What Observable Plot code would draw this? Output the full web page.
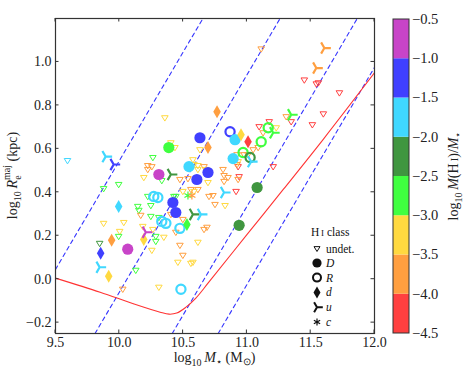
<!DOCTYPE html>
<html><head><meta charset="utf-8">
<script src="https://cdn.jsdelivr.net/npm/d3@7"></script>
<script src="https://cdn.jsdelivr.net/npm/@observablehq/plot@0.6"></script>
<style>body{margin:0;background:#fff} svg{font-family:"Liberation Serif",serif}</style>
</head><body><div id="chart"></div>
<script>
// ---- ticks / bins ----
const xTicks = [9.5, 10.0, 10.5, 11.0, 11.5, 12.0];
const yTicks = [-0.2, 0.0, 0.2, 0.4, 0.6, 0.8, 1.0];
const cbarTicks = [-0.5, -1.0, -1.5, -2.0, -2.5, -3.0, -3.5, -4.0, -4.5];
const gasBins = [-4.0, -3.5, -3.0, -2.5, -2.0, -1.5, -1.0];
const gasColors = ["#ff4040", "#ff9f40", "#ffd940", "#40ff40", "#409640", "#40d8ff", "#4040ff", "#c844c8"];
const legendLabels = ["undet.", "D", "R", "d", "u", "c"];

// ---- data: [log M*, log Re, log M(HI)/M*] ----
const undet = [
 [9.594,0.546,-1.75],[10.357,0.743,-3.25],[11.112,1.060,-3.75],[10.404,0.628,-3.25],[10.436,0.606,-3.25],
 [10.263,0.560,-2.75],[10.223,0.523,-3.75],[10.223,0.505,-3.75],[10.255,0.518,-3.75],[10.192,0.468,-3.25],
 [10.333,0.454,-2.75],[9.995,0.436,-2.75],[9.877,0.417,-2.75],[10.475,0.459,-3.75],[10.538,0.463,-3.75],
 [10.577,0.550,-3.25],[10.632,0.596,-3.25],[10.616,0.523,-3.25],[10.616,0.505,-3.25],[10.223,0.381,-2.75],
 [10.247,0.339,-2.75],[10.498,0.404,-3.25],[10.616,0.413,-3.75],[10.443,0.381,-2.75],[10.585,0.528,-3.25],
 [10.664,0.518,-3.75],[10.679,0.505,-3.25],[10.695,0.445,-3.25],[10.561,0.413,-3.75],[10.703,0.381,-3.75],
 [10.734,0.385,-3.75],[10.813,0.505,-3.75],[10.821,0.477,-3.75],[10.821,0.450,-3.75],[10.852,0.468,-3.75],
 [10.931,0.518,-4.25],[10.939,0.472,-4.25],[10.931,0.459,-3.75],[10.915,0.404,-4.25],[10.931,0.541,-3.25],
 [10.978,0.573,-3.75],[11.009,0.573,-3.75],[11.049,0.596,-3.75],[11.088,0.606,-3.75],[11.127,0.674,-3.75],
 [11.096,0.702,-4.25],[11.230,0.697,-3.25],[11.206,0.518,-4.25],[11.175,0.725,-4.25],[11.308,0.748,-3.75],
 [11.347,0.725,-4.25],[11.450,0.917,-4.25],[11.544,0.899,-4.25],[11.560,0.904,-4.25],[11.725,0.858,-4.25],
 [11.599,0.761,-4.25],[11.513,0.711,-4.25],[10.585,0.404,-3.25],[10.750,0.344,-3.75],[10.829,0.339,-3.25],
 [10.664,0.229,-3.75],[10.687,0.239,-3.75],[10.616,0.170,-3.25],[10.577,0.078,-3.25],[10.145,0.335,-2.75],
 [10.153,0.317,-2.75],[10.168,0.294,-3.75],[9.877,0.257,-3.25],[10.035,0.261,-3.25],[10.247,0.289,-2.75],
 [10.310,0.284,-2.75],[10.428,0.381,-2.75],[10.404,0.298,-3.75],[10.498,0.275,-3.75],[10.003,0.220,-3.25],
 [9.995,0.197,-2.75],[10.184,0.243,-3.25],[10.286,0.197,-2.75],[10.286,0.174,-2.75],[10.349,0.193,-3.25],
 [10.263,0.229,-3.25],[10.443,0.216,-3.75],[10.475,0.156,-3.75],[10.255,0.133,-3.25],[9.846,0.165,-2.25],
 [10.459,0.078,-3.25],[10.498,0.110,-3.75],[10.561,0.073,-3.25],[10.129,0.041,-2.75],[10.027,-0.046,-3.75],
 [10.310,-0.037,-3.25],[10.923,0.573,-3.75],[10.923,0.528,-3.75]
];
const classD = [
 [10.388,0.606,-2.75],[10.310,0.482,-0.75],[10.632,0.651,-1.25],[10.546,0.518,-1.75],[10.695,0.491,-1.25],
 [10.608,0.459,-1.25],[10.907,0.642,-1.75],[10.892,0.555,-1.75],[10.420,0.353,-1.25],[10.443,0.307,-1.25],
 [10.066,0.138,-0.75],[11.080,0.422,-2.25],[10.939,0.248,-2.25]
];
const classR = [
 [10.868,0.679,-1.25],[11.167,0.697,-2.75],[11.112,0.633,-2.75],[10.970,0.583,-2.75],[11.025,0.560,-2.25],
 [10.270,0.381,-1.75],[10.302,0.376,-1.75],[10.333,0.266,-1.75],[10.365,0.257,-1.75],[10.475,0.234,-1.75],
 [10.483,-0.046,-1.75]
];
const classd = [
 [10.766,0.771,-3.75],[10.695,0.606,-3.75],[10.954,0.665,-3.25],[11.009,0.633,-4.25],[9.995,0.335,-1.75],
 [10.530,0.252,-2.75],[10.192,0.183,-3.25],[9.940,0.179,-3.75],[9.854,0.119,-1.25],[9.917,0.014,-3.25]
];
const classu = [
 [9.893,0.564,-1.75],[9.956,0.528,-1.25],[10.404,0.482,-2.25],[11.607,1.064,-3.75],[11.544,0.972,-3.75],
 [11.347,0.757,-2.75],[11.206,0.674,-2.75],[11.033,0.541,-1.75],[10.821,0.399,-1.75],[10.577,0.298,-2.25],
 [10.640,0.298,-1.75],[10.208,0.216,-0.75],[9.846,0.055,-1.75]
];
const classc = [[10.538,0.385,-2.75],[10.569,0.385,-3.75]];

// dashed reference lines (two end points each) and the red curve
const dashedLines = [
 [[9.5,0.045],[10.655,1.2]],
 [[9.81,-0.25],[11.26,1.2]],
 [[10.415,-0.25],[11.865,1.2]],
 [[10.775,-0.25],[12.0,0.975]]
];
const redCurve = [[9.5,0.005],[9.85,-0.06],[10.11,-0.113],[10.32,-0.152],[10.39,-0.161],[10.45,-0.156],
 [10.52,-0.13],[10.60,-0.087],[10.70,-0.015],[11.0,0.205],[11.285,0.413],[11.6,0.645],[12.0,0.95]];

// ---- custom symbols ----
const rad = s => Math.sqrt(s / Math.PI);
const triDown = {draw(c, s){const r = rad(s); c.moveTo(-r,-0.62*r); c.lineTo(r,-0.62*r); c.lineTo(0,r); c.closePath();}};
const triRight = {draw(c, s){const r = rad(s); c.moveTo(0,0); c.lineTo(r,0); c.moveTo(0,0); c.lineTo(-0.5*r,-0.866*r); c.moveTo(0,0); c.lineTo(-0.5*r,0.866*r);}};
const thinDiamond = {draw(c, s){const r = rad(s); c.moveTo(0,-r); c.lineTo(0.58*r,0); c.lineTo(0,r); c.lineTo(-0.58*r,0); c.closePath();}};

const dashedData = dashedLines.flatMap((l, i) => l.map(p => ({M: p[0], R: p[1], id: i})));
const X = d => d[0], Y = d => d[1], G = d => d[2];

const plot = Plot.plot({
  width: 463, height: 371,
  marginLeft: 55, marginRight: 89, marginTop: 18, marginBottom: 38,
  x: {domain: [9.5, 12.0], ticks: xTicks, tickSize: 0, tickPadding: 4, tickFormat: d3.format(".1f"), label: null},
  y: {domain: [-0.25, 1.2], ticks: yTicks, tickSize: 0, tickPadding: 4, tickFormat: d3.format(".1f"), label: null},
  color: {type: "threshold", domain: gasBins, range: gasColors},
  style: {fontFamily: "Liberation Serif, serif", fontSize: "14px", background: "white", color: "#222"},
  marks: [
    Plot.line(dashedData, {x: "M", y: "R", z: "id", stroke: "#3535ff", strokeWidth: 1.1, strokeDasharray: "4,3.5", clip: true}),
    Plot.line(redCurve, {x: X, y: Y, stroke: "#ff3333", strokeWidth: 1.1, curve: "catmull-rom", clip: true}),
    Plot.dot(undet, {x: X, y: Y, stroke: G, symbol: triDown, r: 3.3, strokeWidth: 1, fill: "none"}),
    Plot.dot(classR, {x: X, y: Y, stroke: G, r: 4.6, strokeWidth: 2.2, fill: "none"}),
    Plot.dot(classD, {x: X, y: Y, fill: G, r: 5.6}),
    Plot.dot(classd, {x: X, y: Y, fill: G, symbol: thinDiamond, r: 6.5}),
    Plot.dot(classu, {x: X, y: Y, stroke: G, symbol: triRight, r: 6.5, strokeWidth: 2.2, fill: "none"}),
    Plot.dot(classc, {x: X, y: Y, stroke: G, symbol: "asterisk", r: 3.8, strokeWidth: 1.2}),
    Plot.frame({stroke: "#333", strokeWidth: 1.2})
  ]
});
document.getElementById("chart").appendChild(plot);

const svg = d3.select(plot);
const sx = plot.scale("x"), sy = plot.scale("y"), sc = plot.scale("color");
const xL = sx.apply(9.5), xR = sx.apply(12.0), yB = sy.apply(-0.25), yT = sy.apply(1.2);
const tk = svg.append("g").attr("stroke", "#333").attr("stroke-width", 1);
const T = 3.5;
xTicks.forEach(v => {
  const x = sx.apply(v);
  tk.append("line").attr("x1", x).attr("x2", x).attr("y1", yB).attr("y2", yB - T);
  tk.append("line").attr("x1", x).attr("x2", x).attr("y1", yT).attr("y2", yT + T);
});
yTicks.forEach(v => {
  const y = sy.apply(v);
  tk.append("line").attr("y1", y).attr("y2", y).attr("x1", xL).attr("x2", xL + T);
  tk.append("line").attr("y1", y).attr("y2", y).attr("x1", xR).attr("x2", xR - T);
});

// axis titles
const xt = svg.append("text").attr("x", (xL + xR) / 2).attr("y", 362).attr("text-anchor", "middle")
  .attr("font-size", 14).attr("fill", "#222");
xt.append("tspan").text("log");
xt.append("tspan").attr("font-size", 10).attr("dy", 4).text("10");
xt.append("tspan").attr("dy", -4).text("\u2009");
xt.append("tspan").attr("font-style", "italic").text("M");
xt.append("tspan").attr("font-size", 10).attr("dy", 3).text("\u22c6");
xt.append("tspan").attr("dy", -3).text(" (M");
xt.append("tspan").attr("font-size", 10).attr("dy", 3).text("\u2299");
xt.append("tspan").attr("dy", -3).text(")");

const yt = svg.append("text").attr("transform", `translate(17,${(yT + yB) / 2}) rotate(-90)`)
  .attr("text-anchor", "middle").attr("font-size", 14).attr("fill", "#222");
yt.append("tspan").text("log");
yt.append("tspan").attr("font-size", 10).attr("dy", 4).text("10");
yt.append("tspan").attr("dy", -4).text("\u2009");
yt.append("tspan").attr("font-style", "italic").text("R");
yt.append("tspan").attr("font-size", 10).attr("dy", 4).text("e");
yt.append("tspan").attr("font-size", 10).attr("dx", -4.5).attr("dy", -11).text("maj");
yt.append("tspan").attr("dy", 7).text(" (kpc)");

// colour bar
const cbX = 393, cbW = 16;
const cy = d3.scaleLinear([-4.5, -0.5], [333, 19]);
const edges = cbarTicks.slice().sort((a, b) => a - b);
const cb = svg.append("g");
for (let i = 0; i < edges.length - 1; i++) {
  const mid = (edges[i] + edges[i + 1]) / 2;
  cb.append("rect").attr("x", cbX).attr("width", cbW)
    .attr("y", cy(edges[i + 1])).attr("height", cy(edges[i]) - cy(edges[i + 1]))
    .attr("fill", sc.apply(mid));
}
cb.append("rect").attr("x", cbX).attr("y", cy(-0.5)).attr("width", cbW).attr("height", cy(-4.5) - cy(-0.5))
  .attr("fill", "none").attr("stroke", "#333").attr("stroke-width", 1);
const fmt = d3.format(".1f");
cbarTicks.forEach(v => {
  cb.append("text").attr("x", cbX + cbW + 3).attr("y", cy(v)).attr("dy", "0.34em").attr("font-size", 14.5)
    .attr("text-anchor", "start").attr("fill", "#222").text(fmt(v));
});
const ct = svg.append("text").attr("transform", `translate(458,${(cy(-0.5) + cy(-4.5)) / 2}) rotate(-90)`)
  .attr("text-anchor", "middle").attr("font-size", 14).attr("fill", "#222");
ct.append("tspan").text("log");
ct.append("tspan").attr("font-size", 10).attr("dy", 4).text("10");
ct.append("tspan").attr("dy", -4).text("\u2009");
ct.append("tspan").attr("font-style", "italic").text("M");
ct.append("tspan").text("(H");
ct.append("tspan").attr("font-size", 10.5).text("\u2009I");
ct.append("tspan").text(")/");
ct.append("tspan").attr("font-style", "italic").text("M");
ct.append("tspan").attr("font-size", 10).attr("dy", 3).text("\u22c6");

// legend
const lg = svg.append("g").attr("font-size", 11.5).attr("fill", "#111").attr("text-anchor", "start");
const lt = lg.append("text").attr("x", 311).attr("y", 236).attr("text-anchor", "start");
lt.append("tspan").text("H");
lt.append("tspan").attr("font-size", 9).text("\u2009I");
lt.append("tspan").text(" class");
const rows = [248.5, 263, 277.6, 292.4, 307.2, 322];
const syms = [
  {t: triDown, r: 3.0, fill: "none", stroke: "#111", sw: 1},
  {t: d3.symbolCircle, r: 4.6, fill: "#111", stroke: "none", sw: 0},
  {t: d3.symbolCircle, r: 4.0, fill: "none", stroke: "#111", sw: 2},
  {t: thinDiamond, r: 6.0, fill: "#111", stroke: "none", sw: 0},
  {t: triRight, r: 5.8, fill: "none", stroke: "#111", sw: 2},
  {t: d3.symbolAsterisk, r: 3.4, fill: "none", stroke: "#111", sw: 1.2}
];
legendLabels.forEach((lab, i) => {
  const s = syms[i];
  lg.append("path").attr("transform", `translate(317,${rows[i]})`)
    .attr("d", d3.symbol(s.t, s.r * s.r * Math.PI)())
    .attr("fill", s.fill).attr("stroke", s.stroke).attr("stroke-width", s.sw);
  lg.append("text").attr("x", 326).attr("y", rows[i]).attr("dy", "0.35em").attr("text-anchor", "start")
    .attr("font-style", i === 0 ? "normal" : "italic").text(lab);
});
</script></body></html>
